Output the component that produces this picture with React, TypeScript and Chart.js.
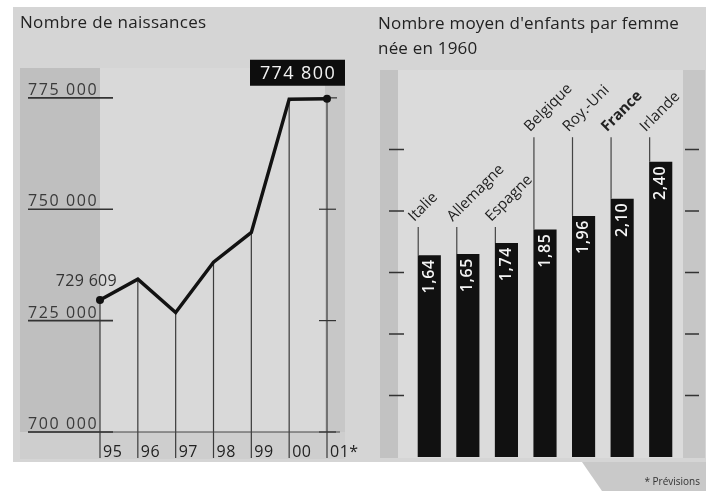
import React, { useEffect, useRef } from 'react';
import { Chart, registerables } from 'chart.js';

Chart.register(...registerables);

// ---- data ----
const years = ['95', '96', '97', '98', '99', '00', '01*'];
const births = [729609, 734300, 726800, 738100, 744800, 774700, 774800];
const birthTicks = [700000, 725000, 750000, 775000];

const countries = ['Italie', 'Allemagne', 'Espagne', 'Belgique', 'Roy.-Uni', 'France', 'Irlande'];
const fertility = [1.64, 1.65, 1.74, 1.85, 1.96, 2.1, 2.4];
const fertilityTicks = [0.5, 1, 1.5, 2, 2.5];

const FONT = '"Open Sans", "Noto Sans", "DejaVu Sans", sans-serif';
const PAPER = '#d5d5d5';
const INK = '#222222';

const fmtThousands = (v: number) => String(Math.round(v)).replace(/\B(?=(\d{3})+(?!\d))/g, ' ');
const fmtDec = (v: number) => v.toFixed(2).replace('.', ',');

export default function App() {
  const leftRef = useRef<HTMLCanvasElement>(null);
  const rightRef = useRef<HTMLCanvasElement>(null);

  useEffect(() => {
    const leftPlugin = {
      id: 'leftDeco',
      beforeDraw(chart: any) {
        const { ctx, chartArea } = chart;
        const { left, right, top, bottom } = chartArea;
        ctx.save();
        ctx.fillStyle = '#d9d9d9';
        ctx.fillRect(left, top, right - 2 - left, bottom - top);
        ctx.fillStyle = '#bfbfbf';
        ctx.fillRect(20, top, left - 20, bottom - top);
        ctx.fillStyle = '#c7c7c7';
        ctx.fillRect(right - 2, top, 20, bottom - top);
        ctx.fillStyle = '#cecece';
        ctx.fillRect(20, bottom, right + 18 - 20, 27);
        ctx.fillStyle = INK;
        ctx.font = `17px ${FONT}`;
        (ctx as any).letterSpacing = '0.3px';
        ctx.textAlign = 'left';
        ctx.textBaseline = 'alphabetic';
        ctx.fillText('Nombre de naissances', 20, 28);
        ctx.restore();
      },
      beforeDatasetsDraw(chart: any) {
        const { ctx, chartArea, scales } = chart;
        const { left, right, bottom } = chartArea;
        const meta = chart.getDatasetMeta(0);
        ctx.save();
        // drop lines
        ctx.strokeStyle = '#3a3a3a';
        ctx.lineWidth = 1.2;
        meta.data.forEach((el: any) => {
          ctx.beginPath();
          ctx.moveTo(el.x, el.y);
          ctx.lineTo(el.x, bottom + 26);
          ctx.stroke();
        });
        // bottom axis
        ctx.strokeStyle = '#444';
        ctx.lineWidth = 1;
        ctx.beginPath();
        ctx.moveTo(28, bottom);
        ctx.lineTo(right + 13, bottom);
        ctx.stroke();
        // y ticks
        const lastX = meta.data[meta.data.length - 1].x;
        ctx.font = `16px ${FONT}`;
        (ctx as any).letterSpacing = '1.6px';
        ctx.textAlign = 'left';
        ctx.textBaseline = 'alphabetic';
        birthTicks.forEach((v) => {
          const y = scales.y.getPixelForValue(v);
          ctx.strokeStyle = '#333';
          ctx.lineWidth = 1.6;
          ctx.beginPath();
          ctx.moveTo(28, y);
          ctx.lineTo(left + 13, y);
          ctx.stroke();
          ctx.lineWidth = 1.2;
          ctx.beginPath();
          if (v === birthTicks[birthTicks.length - 1]) {
            ctx.moveTo(lastX, y);
            ctx.lineTo(lastX + 10, y);
          } else {
            ctx.moveTo(lastX - 8, y);
            ctx.lineTo(lastX + 9, y);
          }
          ctx.stroke();
          ctx.fillStyle = '#3a3a3a';
          ctx.fillText(fmtThousands(v), 28, y - 3);
        });
        // x labels
        ctx.fillStyle = INK;
        ctx.font = `16px ${FONT}`;
        (ctx as any).letterSpacing = '0.5px';
        meta.data.forEach((el: any, i: number) => {
          ctx.fillText(years[i], el.x + 3, bottom + 25);
        });
        ctx.restore();
      },
      afterDatasetsDraw(chart: any) {
        const { ctx } = chart;
        const meta = chart.getDatasetMeta(0);
        const first = meta.data[0];
        const last = meta.data[meta.data.length - 1];
        ctx.save();
        ctx.font = `16px ${FONT}`;
        (ctx as any).letterSpacing = '0.3px';
        ctx.fillStyle = '#333';
        ctx.textAlign = 'right';
        ctx.textBaseline = 'alphabetic';
        ctx.fillText(fmtThousands(births[0]), first.x + 17, first.y - 14);
        // box label
        ctx.fillStyle = '#0d0d0d';
        ctx.fillRect(last.x - 77, last.y - 39, 95, 26);
        ctx.fillStyle = '#f2f2f2';
        ctx.font = `18px ${FONT}`;
        (ctx as any).letterSpacing = '1.4px';
        ctx.textAlign = 'center';
        ctx.textBaseline = 'middle';
        ctx.fillText(fmtThousands(births[births.length - 1]), last.x - 29, last.y - 25);
        ctx.restore();
      },
    };

    const LOW_LEVEL = 1.87;
    const HIGH_LEVEL = 2.6;

    const rightPlugin = {
      id: 'rightDeco',
      beforeDraw(chart: any) {
        const { ctx, chartArea } = chart;
        const { left, right, bottom } = chartArea;
        ctx.save();
        ctx.fillStyle = '#dbdbdb';
        ctx.fillRect(left - 12, 70, right + 5 - (left - 12), bottom + 1 - 70);
        ctx.fillStyle = '#c2c2c2';
        ctx.fillRect(left - 30, 70, 18, bottom + 1 - 70);
        ctx.fillStyle = '#c6c6c6';
        ctx.fillRect(right + 3, 70, 22, bottom + 1 - 70);
        ctx.fillStyle = INK;
        ctx.font = `17px ${FONT}`;
        (ctx as any).letterSpacing = '0.2px';
        ctx.textAlign = 'left';
        ctx.textBaseline = 'alphabetic';
        ctx.fillText("Nombre moyen d'enfants par femme", 18, 29);
        ctx.fillText('née en 1960', 18, 54);
        (ctx as any).letterSpacing = '0px';
        // ticks
        ctx.strokeStyle = '#333';
        ctx.lineWidth = 1.4;
        fertilityTicks.forEach((v) => {
          const y = chart.scales.y.getPixelForValue(v);
          ctx.beginPath();
          ctx.moveTo(left - 21, y);
          ctx.lineTo(left - 6, y);
          ctx.moveTo(right + 5, y);
          ctx.lineTo(right + 19, y);
          ctx.stroke();
        });
        // prévisions
        ctx.font = `10px ${FONT}`;
        ctx.fillStyle = '#333';
        ctx.textAlign = 'right';
        ctx.fillText('* Prévisions', 340, 485);
        ctx.restore();
      },
      afterDatasetsDraw(chart: any) {
        const { ctx, scales } = chart;
        const meta = chart.getDatasetMeta(0);
        ctx.save();
        meta.data.forEach((bar: any, i: number) => {
          const lx = bar.x - bar.width / 2 + 0.5;
          const level = i < 3 ? LOW_LEVEL : HIGH_LEVEL;
          const ly = scales.y.getPixelForValue(level);
          ctx.strokeStyle = '#444';
          ctx.lineWidth = 1.2;
          ctx.beginPath();
          ctx.moveTo(lx, bar.y);
          ctx.lineTo(lx, ly);
          ctx.stroke();
          // country label
          ctx.save();
          ctx.translate(lx - 4, ly - 5);
          ctx.rotate(-Math.PI / 4);
          ctx.fillStyle = INK;
          ctx.font = `${countries[i] === 'France' ? 'bold ' : ''}15px ${FONT}`;
          ctx.textAlign = 'left';
          ctx.textBaseline = 'alphabetic';
          ctx.fillText(countries[i], 0, 0);
          ctx.restore();
          // value label
          ctx.save();
          ctx.translate(bar.x, bar.y + 4);
          ctx.rotate(-Math.PI / 2);
          ctx.fillStyle = '#f4f4f4';
          ctx.font = `600 16px ${FONT}`;
          (ctx as any).letterSpacing = '0.6px';
          ctx.textAlign = 'right';
          ctx.textBaseline = 'middle';
          ctx.fillText(fmtDec(fertility[i]), 0, 0);
          ctx.restore();
        });
        ctx.restore();
      },
    };

    const c1 = new Chart(leftRef.current!, {
      type: 'line',
      data: {
        labels: years,
        datasets: [
          {
            data: births,
            borderColor: '#121212',
            borderWidth: 3.4,
            tension: 0,
            borderJoinStyle: 'miter',
            pointRadius: (c: any) => (c.dataIndex === 0 || c.dataIndex === births.length - 1 ? 4 : 0),
            pointBackgroundColor: '#121212',
            pointBorderWidth: 0,
            clip: false as any,
          },
        ],
      },
      options: {
        animation: false,
        responsive: false,
        maintainAspectRatio: false,
        layout: { padding: { left: 100, right: 33, top: 68, bottom: 59 } },
        scales: {
          x: { display: false, offset: false },
          y: { display: false, min: 700000, max: 781700 },
        },
        plugins: { legend: { display: false }, tooltip: { enabled: false }, title: { display: false } },
      },
      plugins: [leftPlugin],
    });

    const c2 = new Chart(rightRef.current!, {
      type: 'bar',
      data: {
        labels: countries,
        datasets: [
          {
            data: fertility,
            backgroundColor: '#111111',
            barPercentage: 0.6,
            categoryPercentage: 1,
            borderWidth: 0,
          },
        ],
      },
      options: {
        animation: false,
        responsive: false,
        maintainAspectRatio: false,
        layout: { padding: { left: 50, right: 26, top: 88, bottom: 34 } },
        scales: {
          x: { display: false },
          y: { display: false, min: 0, max: 3 },
        },
        plugins: { legend: { display: false }, tooltip: { enabled: false } },
      },
      plugins: [rightPlugin],
    });

    return () => {
      c1.destroy();
      c2.destroy();
    };
  }, []);

  return (
    <div style={{ position: 'absolute', left: 0, top: 0, width: 706, height: 491, background: '#ffffff', overflow: 'hidden' }}>
      <div style={{ position: 'absolute', left: 13, top: 7, width: 693, height: 455, background: PAPER }} />
      <div
        style={{
          position: 'absolute',
          left: 582,
          top: 462,
          width: 124,
          height: 29,
          background: '#c9c9c9',
          clipPath: 'polygon(0 0, 100% 0, 100% 100%, 20px 100%)',
        }}
      />
      <canvas ref={leftRef} width={360} height={491} style={{ position: 'absolute', left: 0, top: 0, width: 360, height: 491 }} />
      <canvas ref={rightRef} width={346} height={491} style={{ position: 'absolute', left: 360, top: 0, width: 346, height: 491 }} />
    </div>
  );
}
